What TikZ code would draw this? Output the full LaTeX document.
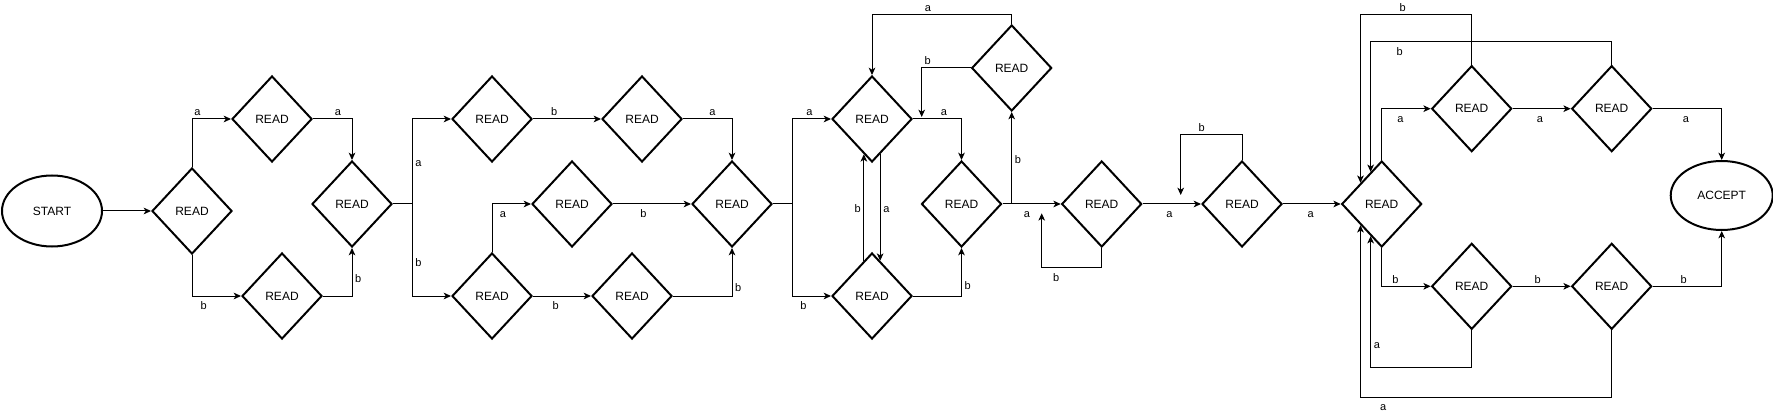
\documentclass[tikz,border=0pt]{standalone}
\usepackage{fontspec}
\setmainfont{Liberation Sans}
\usetikzlibrary{shapes.geometric, arrows.meta}
\begin{document}
\begin{tikzpicture}[x=.75pt, y=.75pt, >={Stealth[length=5.5pt, width=5pt, inset=1.5pt]},
				readbox/.style={diamond, draw, line width=1.5pt, minimum width=60pt, minimum height=64.5pt, inner sep=0pt, font=\fontsize{9}{10}\selectfont},
				endbox/.style={ellipse, draw, line width=1.5pt, inner sep=0pt, font=\fontsize{9}{10}\selectfont},
				link/.style={->, line width=.75pt},
				lbl/.style={font=\fontsize{8.25}{9}\selectfont, inner sep=2pt, text height=1.5ex, text depth=0pt}]
				\useasboundingbox (0,0) rectangle (1773,411);
				\node[endbox, minimum width=75pt, minimum height=53.25pt] (start) at (52,200) {START};
				\node[endbox, minimum width=76.5pt, minimum height=51.75pt] (accept) at (1721.7,215.5) {ACCEPT};
				\foreach \n/\x/\y in {r1/192/200, r2/272/292, r3/282/115, r4/352/207, r5/492/292, r6/492/115, r7/642/292, r8/572/207, r9/632/115, r10/732/207, r11/872/292, r12/872/115, r13/961.5/207, r14/1011.7/343, r15/1101.7/207, r16/1242/207, r17/1381.7/207, r18/1471.7/302.3, r19/1611.7/302.3, r20/1471.7/124.7, r21/1611.7/124.7}
					\node[readbox] (\n) at (\x,\y) {READ};
				\draw[link] (start) -- (r1);
				\draw[link] (r1.north) |- node[lbl, pos=.57, above] {a} (r2.west);
				\draw[link] (r2.east) -| node[lbl, pos=.32, above] {a} (r4.north);
				\draw[link] (r1.south) |- node[lbl, pos=.62, below] {b} (r3.west);
				\draw[link] (r3.east) -| node[lbl, pos=.7, right] {b} (r4.south);
				\draw[link] (r4.east) -- ++(19.3,0) |- node[lbl, pos=.25, right] {a} (r5.west);
				\draw[link] (r4.east) -- ++(19.3,0) |- node[lbl, pos=.31, right] {b} (r6.west);
				\draw[link] (r5) -- node[lbl, pos=.31, above] {b} (r7);
				\draw[link] (r7.east) -| node[lbl, pos=.3, above] {a} (r10.north);
				\draw[link] (r6.north) |- node[lbl, pos=.64, below] {a} (r8.west);
				\draw[link] (r8) -- node[lbl, pos=.39, below] {b} (r10);
				\draw[link] (r6) -- node[lbl, pos=.39, below] {b} (r9);
				\draw[link] (r9.east) -| node[lbl, pos=.6, right] {b} (r10.south);
				\draw[link] (r10.east) -- ++(19.3,0) |- node[lbl, pos=.72, above] {a} (r11.west);
				\draw[link] (r10.east) -- ++(19.3,0) |- node[lbl, pos=.645, below] {b} (r12.west);
				\draw[link] (r11.283) -- node[lbl, right] {a} (r12.77);
				\draw[link] (r12.103) -- node[lbl, left] {b} (r11.257);
				\draw[link] (r11.east) -| node[lbl, pos=.32, above] {a} (r13.north);
				\draw[link] (r12.east) -| node[lbl, pos=.62, right] {b} (r13.south);
				\draw[link] (r13) -- node[lbl, pos=.42, below] {a} (r15);
				\draw[link] (r13.east) -| node[lbl, pos=.75, right] {b} (r14.south);
				\coordinate (t14) at (921.7,294);
				\draw[link] (r14.west) -| node[lbl, pos=.44, above] {b} (t14);
				\draw[link] (r14.north) -- ++(0,9.7) -| node[lbl, pos=.3, above] {a} (r11.north);
				\coordinate (t15) at (1041.7,197.7);
				\draw[link] (r15.south) -- ++(0,-19.7) -| node[lbl, pos=.38, below] {b} (t15);
				\draw[link] (r15) -- node[lbl, pos=.46, below] {a} (r16);
				\coordinate (t16) at (1180.7,216);
				\draw[link] (r16.north) -- ++(0,25) -| node[lbl, pos=.33, above] {b} (t16);
				\draw[link] (r16) -- node[lbl, pos=.48, below] {a} (r17);
				\draw[link] (r17.north) |- node[lbl, pos=.69, below] {a} (r18.west);
				\draw[link] (r18) -- node[lbl, pos=.47, below] {a} (r19);
				\draw[link] (r19.east) -| node[lbl, pos=.24, below] {a} (accept.north);
				\draw[link] (r17.south) |- node[lbl, pos=.64, above] {b} (r20.west);
				\draw[link] (r20) -- node[lbl, pos=.43, above] {b} (r21);
				\draw[link] (r21.east) -| node[lbl, pos=.225, above] {b} (accept.south);
				\draw[link] (r18.north) -- ++(0,49.7) -| node[lbl, pos=.31, above] {b} (r17.135);
				\draw[link] (r19.north) -- ++(0,23.4) -| node[lbl, pos=.44, below] {b} (r17.109);
				\draw[link] (r20.south) -- ++(0,-36.7) -| node[lbl, pos=.59, right] {a} (r17.251);
				\draw[link] (r21.south) -- ++(0,-66.7) -| node[lbl, pos=.455, below] {a} (r17.225);
			\end{tikzpicture}
\end{document}
